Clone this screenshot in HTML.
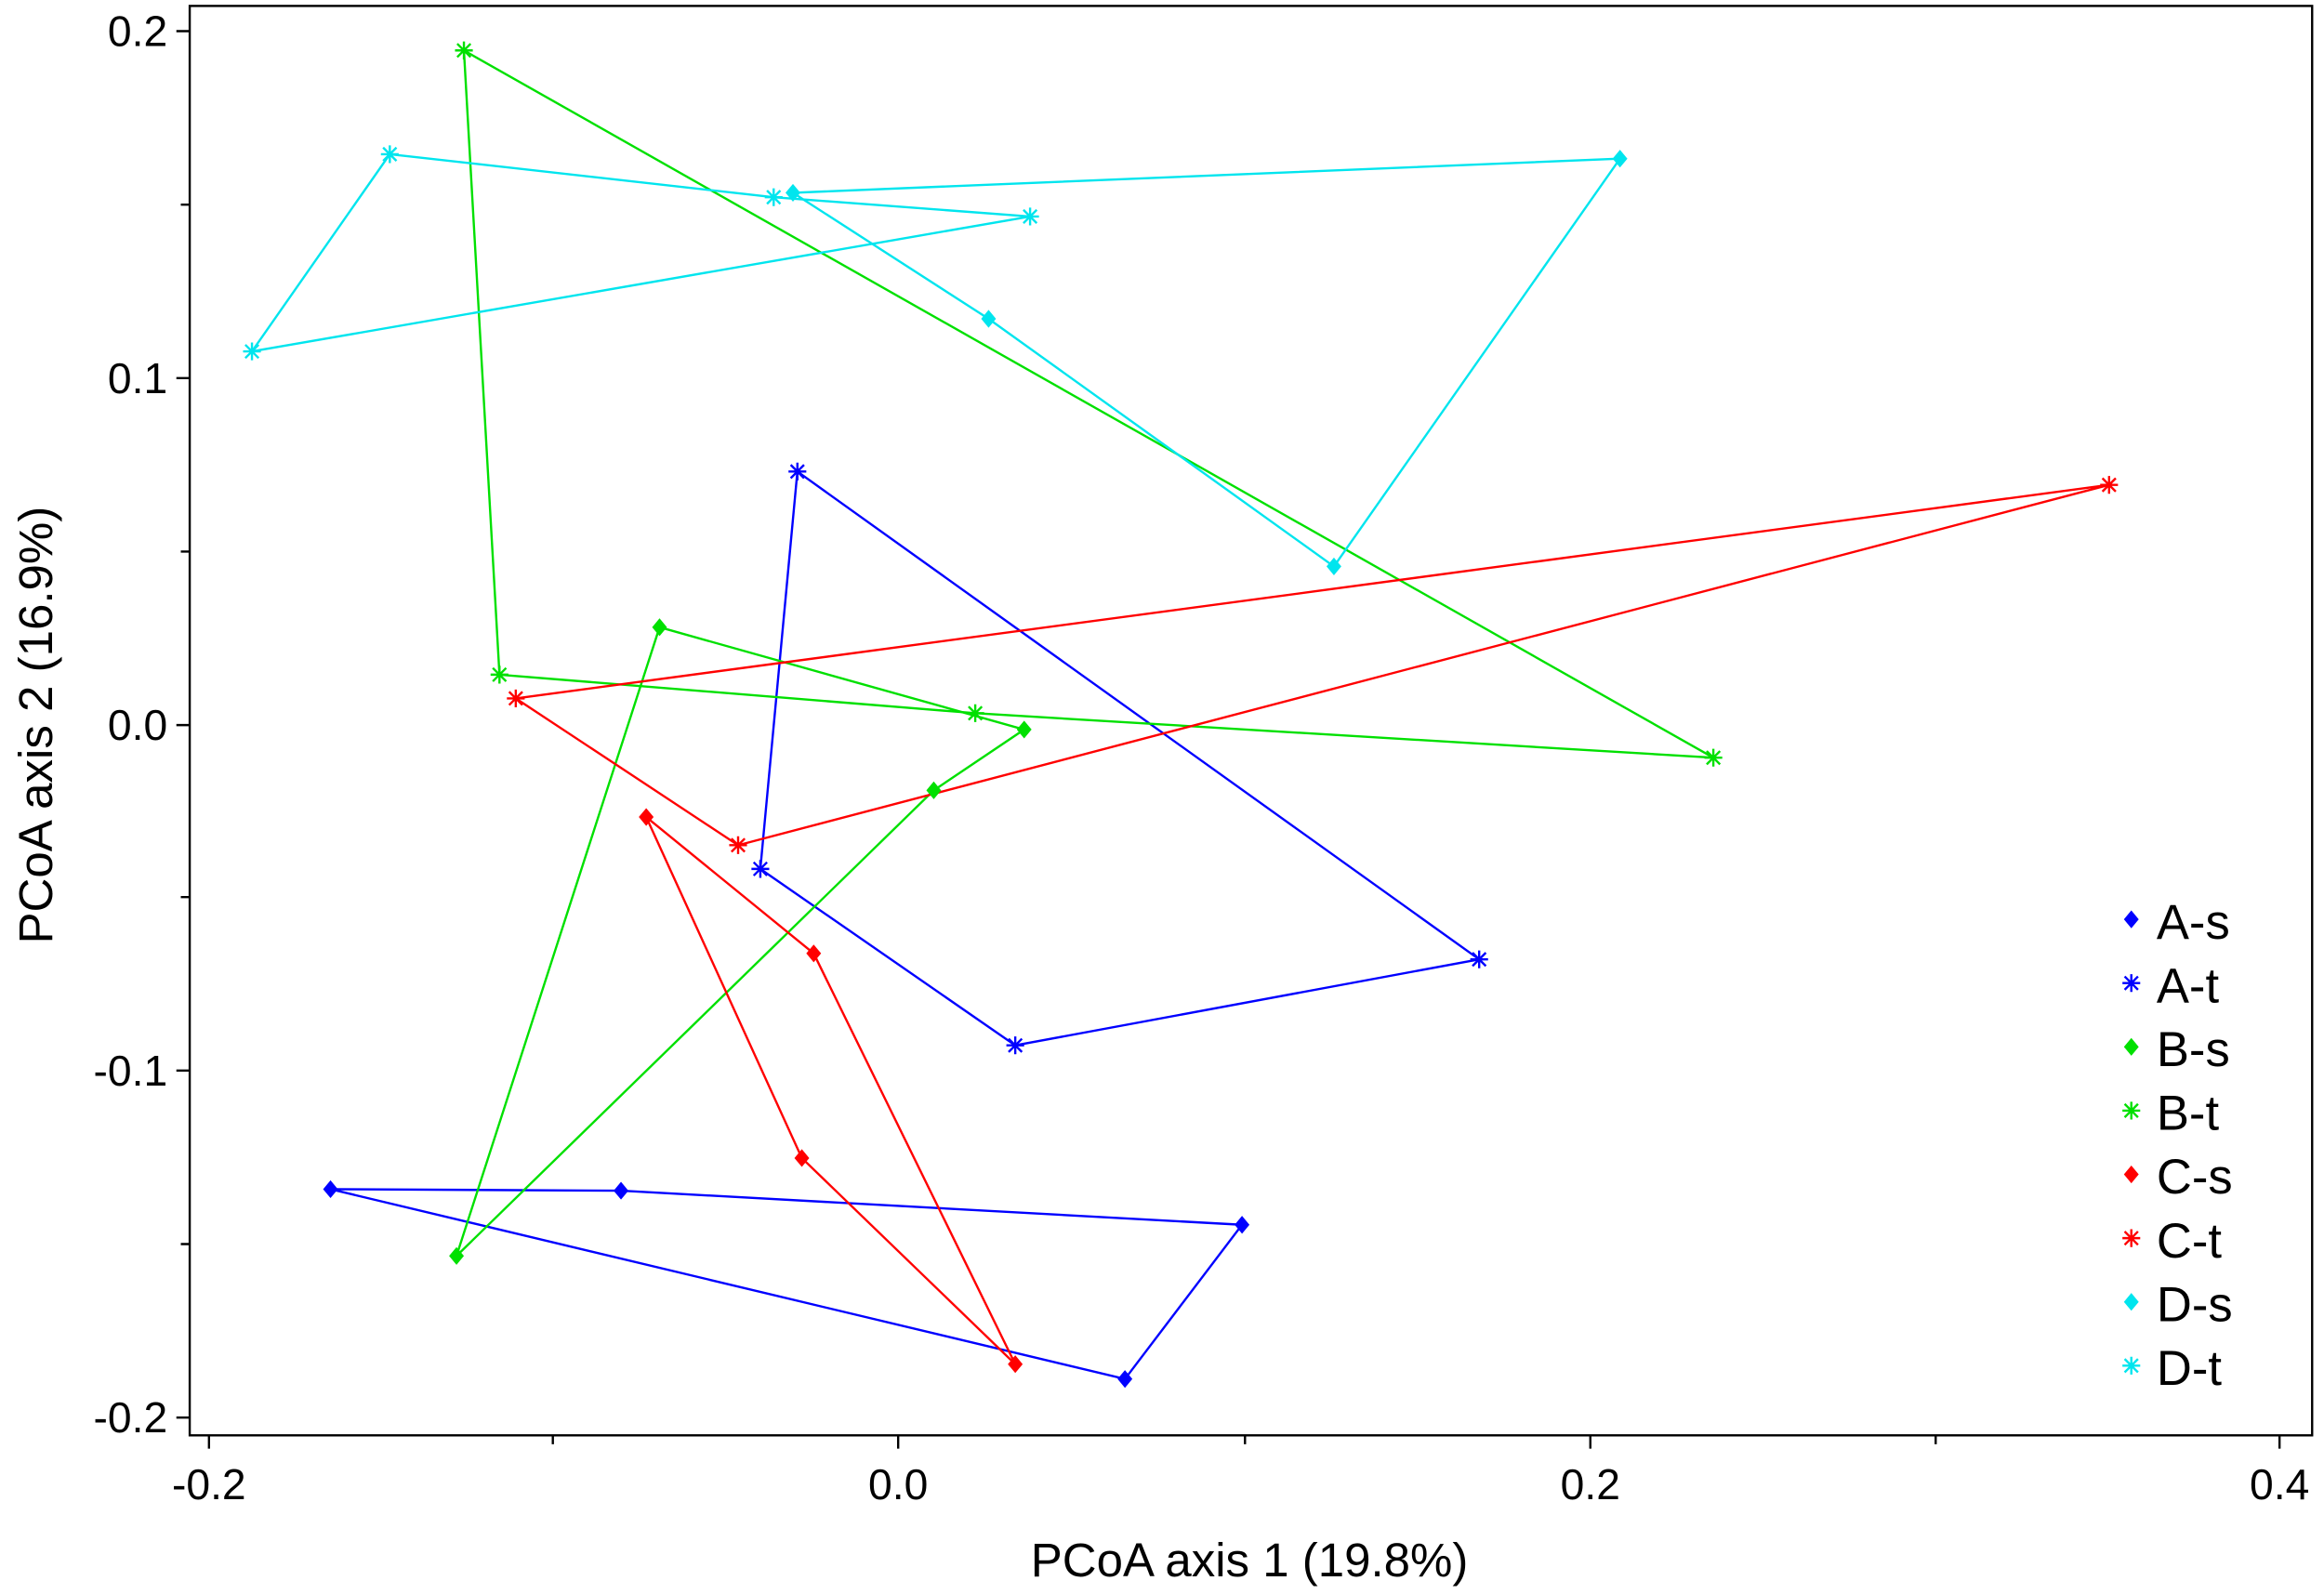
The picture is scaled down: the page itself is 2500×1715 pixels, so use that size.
<!DOCTYPE html>
<html><head><style>body{margin:0;background:#fff}svg{display:block}</style></head><body>
<svg width="2500" height="1715" viewBox="0 0 1568 1075" preserveAspectRatio="none" xmlns="http://www.w3.org/2000/svg" font-family="Liberation Sans, sans-serif">
<defs>
<g id="d"><path d="M0,-6 L5,0 L0,6 L-5,0Z"/></g>
<g id="s" stroke-width="1.5"><path d="M-6,0H6M0,-6V6M-4.5,-4.5L4.5,4.5M-4.5,4.5L4.5,-4.5"/></g>
</defs>
<rect x="128" y="4" width="1432" height="964" fill="none" stroke="#000" stroke-width="1.5"/>
<g stroke="#000" stroke-width="1.5">
<path d="M141,968v9M373,968v6M606,968v9M840,968v6M1073,968v9M1306,968v6M1538,968v9"/>
<path d="M128,21h-9M128,138h-6M128,255h-9M128,372h-6M128,489h-9M128,605h-6M128,722h-9M128,839h-6M128,956h-9"/>
</g>
<g font-size="29" fill="#000">
<g text-anchor="middle"><text x="141" y="1011">-0.2</text><text x="606" y="1011">0.0</text><text x="1073" y="1011">0.2</text><text x="1538" y="1011">0.4</text></g>
<g text-anchor="end"><text x="113" y="31">0.2</text><text x="113" y="265">0.1</text><text x="113" y="499">0.0</text><text x="113" y="732">-0.1</text><text x="113" y="966">-0.2</text></g>
<text x="843" y="1063" text-anchor="middle" font-size="32">PCoA axis 1 (19.8%)</text>
<text transform="translate(35,489) rotate(-90)" text-anchor="middle" font-size="32">PCoA axis 2 (16.9%)</text>
</g>
<g fill="none" stroke-width="1.5">
<polygon stroke="#0000ff" points="223,802 419,803 838,826 759,930"/>
<polygon stroke="#0000ff" points="538,318 513,586 685,705 998,647"/>
<polygon stroke="#00e000" points="445,423 691,492 630,533 308,847"/>
<polygon stroke="#00e000" points="313,34 1156,511 658,481 337,455"/>
<polygon stroke="#ff0000" points="436,551 541,781 685,920 549,643"/>
<polygon stroke="#ff0000" points="348,471 1423,327 498,570"/>
<polygon stroke="#00e5ee" points="535,130 1093,107 900,382 667,215"/>
<polygon stroke="#00e5ee" points="263,104 522,133 695,146 170,237"/>
</g>
<g fill="#0000ff"><use href="#d" x="223" y="802"/><use href="#d" x="419" y="803"/><use href="#d" x="838" y="826"/><use href="#d" x="759" y="930"/></g>
<g stroke="#0000ff"><use href="#s" x="538" y="318"/><use href="#s" x="513" y="586"/><use href="#s" x="685" y="705"/><use href="#s" x="998" y="647"/></g>
<g fill="#00e000"><use href="#d" x="445" y="423"/><use href="#d" x="691" y="492"/><use href="#d" x="630" y="533"/><use href="#d" x="308" y="847"/></g>
<g stroke="#00e000"><use href="#s" x="313" y="34"/><use href="#s" x="1156" y="511"/><use href="#s" x="658" y="481"/><use href="#s" x="337" y="455"/></g>
<g fill="#ff0000"><use href="#d" x="436" y="551"/><use href="#d" x="541" y="781"/><use href="#d" x="685" y="920"/><use href="#d" x="549" y="643"/></g>
<g stroke="#ff0000"><use href="#s" x="348" y="471"/><use href="#s" x="1423" y="327"/><use href="#s" x="498" y="570"/></g>
<g fill="#00e5ee"><use href="#d" x="535" y="130"/><use href="#d" x="1093" y="107"/><use href="#d" x="900" y="382"/><use href="#d" x="667" y="215"/></g>
<g stroke="#00e5ee"><use href="#s" x="263" y="104"/><use href="#s" x="522" y="133"/><use href="#s" x="695" y="146"/><use href="#s" x="170" y="237"/></g>
<g font-size="33" fill="#000">
<use href="#d" x="1438" y="620" fill="#0000ff"/><text x="1455" y="633">A-s</text>
<use href="#s" x="1438" y="663" stroke="#0000ff"/><text x="1455" y="676">A-t</text>
<use href="#d" x="1438" y="706" fill="#00e000"/><text x="1455" y="719">B-s</text>
<use href="#s" x="1438" y="749" stroke="#00e000"/><text x="1455" y="762">B-t</text>
<use href="#d" x="1438" y="792" fill="#ff0000"/><text x="1455" y="805">C-s</text>
<use href="#s" x="1438" y="835" stroke="#ff0000"/><text x="1455" y="848">C-t</text>
<use href="#d" x="1438" y="878" fill="#00e5ee"/><text x="1455" y="891">D-s</text>
<use href="#s" x="1438" y="921" stroke="#00e5ee"/><text x="1455" y="934">D-t</text>
</g>
</svg>
</body></html>
